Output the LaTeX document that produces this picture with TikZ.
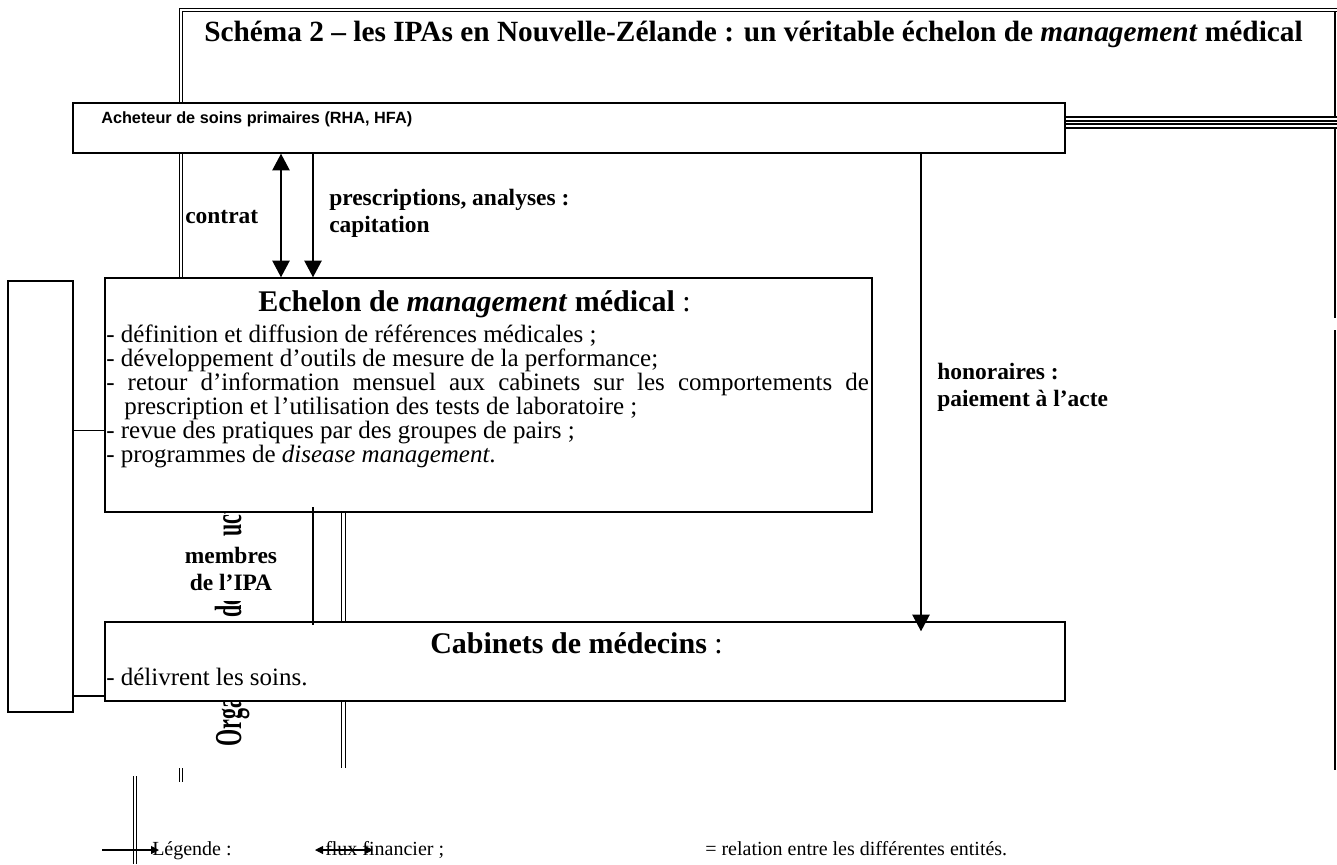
\documentclass[tikz,border=0pt]{standalone}
\usepackage{fontspec}
\setmainfont{Liberation Serif}
\newfontfamily\arialfont{Liberation Sans}
\usetikzlibrary{arrows.meta,positioning,calc,fit}

\begin{document}
\begin{tikzpicture}[x=0.75pt, y=-0.75pt,
    boite/.style={rectangle, draw=black, fill=white, inner sep=0pt, line width=1.1pt},
    cadre/.style={double, line width=0.8pt, double distance=1.6pt},
    trait/.style={line width=1.1pt},
    fleche/.style={-{Triangle[length=12.5pt, width=13pt]}, line width=1.1pt},
    fleche2/.style={{Triangle[length=12.5pt, width=13pt]}-{Triangle[length=12.5pt, width=13pt]}, line width=1.1pt},
    petitefleche/.style={-{Triangle[length=6pt, width=6pt]}, line width=0.8pt},
    petitefleche2/.style={{Triangle[length=6pt, width=6pt]}-{Triangle[length=6pt, width=6pt]}, line width=0.8pt},
    lien/.style={font=\fontsize{17.6}{20.25}\selectfont\bfseries, inner sep=0pt, align=left},
    titre/.style={font=\fontsize{22.5}{24}\selectfont\bfseries, inner sep=0pt, anchor=base west},
    corps/.style={font=\fontsize{18.75}{18}\selectfont, inner sep=0pt, anchor=base west},
    legende/.style={font=\fontsize{15}{18}\selectfont, inner sep=0pt, anchor=base west}
]
    \useasboundingbox (0,0) rectangle (1337,864);

    % cadres du tableau
    \draw[cadre] (181,278) -- (181,10) -- (1337,10);
    \draw[trait] (1335,12) -- (1335,117);
    \draw[trait] (183,117) -- (1337,117);
    \draw[line width=1.4pt, double, double distance=0.9pt] (1065,122.5) -- (1337,122.5);
    \draw[trait] (1065,128) -- (1337,128);
    \draw[trait] (1335,128) -- (1335,318);
    \draw[trait] (1335,330) -- (1335,770);
    \draw[cadre] (343.5,512) -- (343.5,768);
    \draw[cadre] (181,768) -- (181,782);
    \draw[cadre] (135,776) -- (135,864);

    \node[rotate=90, anchor=base west, inner sep=0pt] (orgtexte) at (241,747)
        {\scalebox{0.58}[1]{\fontsize{28.5}{30}\selectfont\bfseries Organisation des producteurs}};

    \node[boite, fit={(73,103) (1065,153)}] (acheteur) {};
    \node[boite, fit={(8,281) (73,712)}] (organisme) {};
    \node[boite, fit={(105,278) (872,512)}] (echelon) {};
    \node[boite, fit={(105,622) (1065,701)}] (cabinets) {};

    \node[titre, font=\fontsize{22}{24}\selectfont\bfseries] (schema) at (204,41)
        {Schéma 2 – les IPAs en Nouvelle-Zélande : un véritable échelon de \textit{management} médical};
    \node[anchor=base west, inner sep=0pt, font=\arialfont\bfseries\fontsize{12.2}{14}\selectfont] (acheteur-texte) at (101,123)
        {Acheteur de soins primaires (RHA, HFA)};

    \node[titre] (echelon-titre) at (258,311) {Echelon de \textit{management} médical{\mdseries{} :}};
    \node[corps] (ligne1) at (106,342) {- définition et diffusion de références médicales ;};
    \node[corps] (ligne2) at (106,366) {- développement d’outils de mesure de la performance;};
    \node[corps] (ligne3) at (106,390) {\makebox[572pt][s]{- retour d’information mensuel aux cabinets sur les comportements de}};
    \node[corps] (ligne4) at (124,414) {prescription et l’utilisation des tests de laboratoire ;};
    \node[corps] (ligne5) at (106,438) {- revue des pratiques par des groupes de pairs ;};
    \node[corps] (ligne6) at (106,462) {- programmes de \textit{disease management}.};

    \node[titre] (cabinets-titre) at (430,653) {Cabinets de médecins{\mdseries{} :}};
    \node[corps] (cabinets-texte) at (106,685) {- délivrent les soins.};

    \node[lien, anchor=base west] (contrat) at (185,223) {contrat};
    \node[lien, anchor=north west] (prescriptions) at (329,189) {prescriptions, analyses :\\capitation};
    \node[lien, anchor=north west] (honoraires) at (937,363) {honoraires :\\paiement à l’acte};
    \node[lien, align=center, fill=white, inner xsep=2pt, inner ysep=8pt, anchor=north] (membres) at (231,536) {membres\\de l’IPA};

    \coordinate (xc) at (281,0);
    \coordinate (xp) at (313,0);
    \coordinate (xh) at (921,0);
    \coordinate (ya) at (0,430.5);
    \coordinate (yb) at (0,696);

    \draw[fleche2] (acheteur.south -| xc) -- (echelon.north -| xc);
    \draw[fleche] (acheteur.south -| xp) -- (echelon.north -| xp);
    \draw[fleche, shorten >=-7.5pt] (acheteur.south -| xh) -- (cabinets.north -| xh);
    \draw[trait] ([yshift=4pt]echelon.south -| xp) -- ([yshift=-2.5pt]cabinets.north -| xp);
    \draw[trait] (organisme.east |- ya) -- (echelon.west |- ya);
    \draw[trait] (organisme.east |- yb) -- (cabinets.west |- yb);

    % legende
    \coordinate (lg0) at (102,850);
    \node[legende] (legende) at (152,855) {Légende :};
    \draw[petitefleche] (lg0) -- ([xshift=5.25pt]legende.west |- lg0);
    \node[legende] (flux) at (325,855) {flux financier ;};
    \draw[petitefleche2] ([xshift=-7.5pt]flux.west |- lg0) -- ([xshift=36pt]flux.west |- lg0);
    \node[legende] (relation) at (705,855) {= relation entre les différentes entités.};
\end{tikzpicture}
\end{document}
